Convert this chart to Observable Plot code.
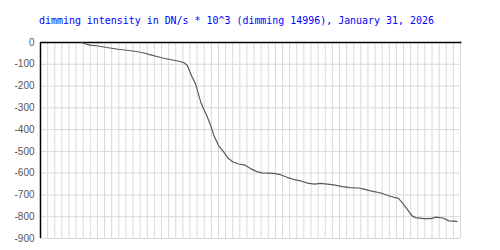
<!DOCTYPE html>
<html>
<head>
<meta charset="utf-8">
<script src="https://cdn.jsdelivr.net/npm/d3@7"></script>
<script src="https://cdn.jsdelivr.net/npm/@observablehq/plot@0.6"></script>
<style>
  html, body { margin: 0; padding: 0; background: #fff; }
  #wrap { position: relative; width: 500px; height: 250px; }
  #title { position: absolute; left: 39px; top: 15px; font-family: "DejaVu Sans Mono", monospace; font-size: 9.95px; color: #0000ff; white-space: pre; line-height: 12px; }
  svg { display: block; }
</style>
</head>
<body>
<div id="wrap">
  <div id="title">dimming intensity in DN/s * 10^3 (dimming 14996), January 31, 2026</div>
  <div id="chart"></div>
</div>
<script>
const titleText = "dimming intensity in DN/s * 10^3 (dimming 14996), January 31, 2026";
const sampleIndex = [5.76, 6.95, 8.1, 9.27, 10.9, 13.0, 14.4, 15.6, 17.0, 18.2, 19.3, 20.1, 20.6, 21.3, 21.8, 22.1, 22.5, 22.9, 23.4, 23.9, 24.3, 25.0, 25.7, 26.4, 27.1, 27.85, 28.7, 29.5, 30.4, 31.1, 32.8, 33.7, 34.65, 35.7, 36.5, 37.5, 38.5, 39.3, 40.3, 41.2, 42.4, 43.5, 44.7, 45.4, 46.4, 47.8, 49.2, 50.3, 50.8, 51.5, 52.2, 52.7, 53.8, 54.8, 55.6, 56.65, 57.35, 58.5];
const intensity = [-1, -12, -16, -23, -31, -39, -47, -58, -70, -78, -85, -92, -104, -158, -192, -227, -273, -304, -339, -381, -422, -473, -501, -533, -550, -558, -563, -579, -593, -599, -601, -607, -619, -630, -635, -646, -650, -647, -650, -654, -662, -666, -668, -673, -681, -691, -707, -716, -735, -765, -796, -804, -809, -809, -802, -807, -819, -821];
const yTicks = [0, -100, -200, -300, -400, -500, -600, -700, -800, -900];
const xGrid = d3.range(1, 60);

const data = sampleIndex.map((x, i) => ({x, y: intensity[i]}));

const chart = Plot.plot({
  width: 500,
  height: 250,
  marginLeft: 40,
  marginRight: 40,
  marginTop: 42,
  marginBottom: 12,
  style: {background: "#fff", fontFamily: "Liberation Sans, sans-serif", fontSize: "10px"},
  x: {domain: [0, 59], axis: null},
  y: {domain: [-900, 0], axis: null},
  marks: [
    Plot.ruleX(xGrid, {stroke: "#d9d9d9", strokeWidth: 1}),
    Plot.ruleY(yTicks.filter(d => d !== 0), {stroke: "#d9d9d9", strokeWidth: 1}),
    Plot.ruleY([0], {stroke: "#000", strokeWidth: 1.5, x1: 0, x2: 59.2}),
    Plot.ruleX([0], {stroke: "#000", strokeWidth: 1.5}),
    Plot.line(data, {x: "x", y: "y", stroke: "#5a5a5a", strokeWidth: 1.2}),
    Plot.axisY(yTicks, {tickSize: 0, tickPadding: 6, fill: "#555", fontSize: 10, label: null, tickFormat: d => String(d)})
  ]
});
document.getElementById("chart").appendChild(chart);
</script>
</body>
</html>
